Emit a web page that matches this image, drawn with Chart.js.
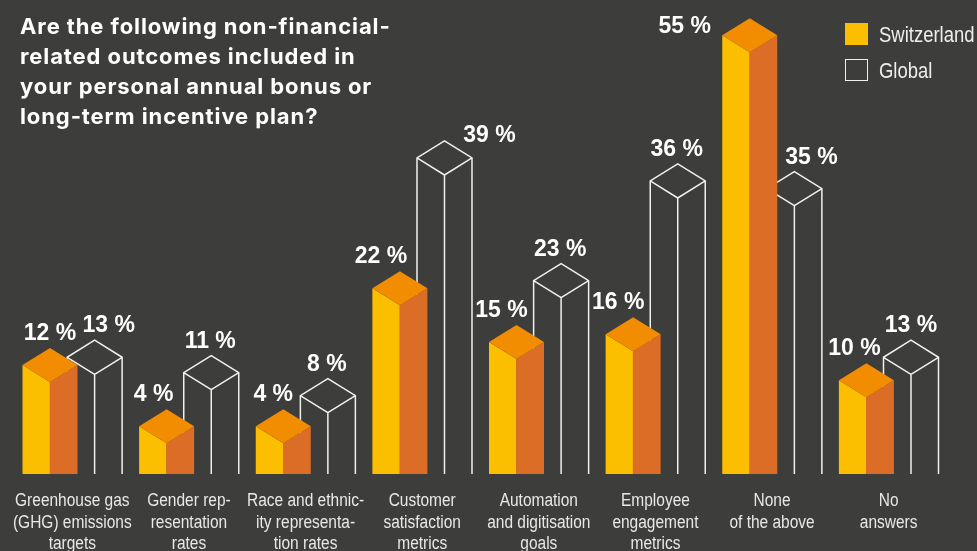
<!DOCTYPE html>
<html>
<head>
<meta charset="utf-8">
<script src="https://cdn.jsdelivr.net/npm/chart.js@4/dist/chart.umd.min.js"></script>
<style>
  html, body { margin: 0; padding: 0; background: #3d3d3c; }
  #wrap { position: relative; width: 977px; height: 551px; overflow: hidden; }
  #title {
    position: absolute; left: 20px; top: 11px; margin: 0;
    font: bold 22px/30px Inter, 'Liberation Sans', Arial, sans-serif;
    letter-spacing: 0.9px; color: #ffffff;
  }
  .legend { position: absolute; left: 845px; width: 130px; height: 24px; }
  .legend .box { position: absolute; left: 0; top: 0; width: 23px; height: 22px; box-sizing: border-box; }
  .legend .txt {
    position: absolute; left: 34px; top: 1px; white-space: nowrap;
    font: 22px/22px 'Liberation Sans', Arial, sans-serif; color: #eeeeee;
    transform: scaleX(0.84); transform-origin: left center;
  }
</style>
</head>
<body>
<div id="wrap">
  <canvas id="chart"></canvas>
  <p id="title">Are the following non-financial-<br>related outcomes included in<br>your personal annual bonus or<br>long-term incentive plan?</p>
  <div class="legend" style="top:23px"><span class="box" style="background:#fcbf00"></span><span class="txt">Switzerland</span></div>
  <div class="legend" style="top:59px"><span class="box" style="border:1.5px solid #f0f0f0"></span><span class="txt">Global</span></div>
</div>
<script>
const categories = [
  ['Greenhouse gas', '(GHG) emissions', 'targets'],
  ['Gender rep-', 'resentation', 'rates'],
  ['Race and ethnic-', 'ity representa-', 'tion rates'],
  ['Customer', 'satisfaction', 'metrics'],
  ['Automation', 'and digitisation', 'goals'],
  ['Employee', 'engagement', 'metrics'],
  ['None', 'of the above'],
  ['No', 'answers']
];
const switzerland = [12, 4, 4, 22, 15, 16, 55, 10];
const global = [13, 11, 8, 39, 23, 36, 35, 13];

// value label nudges (px) so labels clear neighbouring prisms
const swissLabelShift = [0, -13, -10, -19, -15, -15, -65, -12];
const swissLabelLift = [8, 8, 8, 8, 8, 8, -15, 8];
const globalLabelShift = [14, -1, -1, 45, -1, -1, 17, 0];
const globalLabelLift = [8, 8, 8, -1, 8, 8, 8, 8];

const YELLOW = '#fcbf00';
const ORANGE_SIDE = '#dc6d27';
const ORANGE_TOP = '#f28c00';
const OUTLINE = '#f0f0f0';

function prismPoints(el) {
  const half = el.width / 2;
  const depth = el.width * 0.31;
  return {
    L: el.x - half, C: el.x, R: el.x + half,
    front: el.y, corner: el.y - depth, apex: el.y - 2 * depth, base: el.base
  };
}

// draws each bar as an isometric prism, plus value and category labels
const prismPlugin = {
  id: 'prisms',
  afterDatasetsDraw(chart) {
    const ctx = chart.ctx;
    const swissMeta = chart.getDatasetMeta(0);
    const globalMeta = chart.getDatasetMeta(1);
    ctx.save();

    // outlined Global prisms sit behind
    ctx.strokeStyle = OUTLINE;
    ctx.lineWidth = 1.5;
    globalMeta.data.forEach((el) => {
      const p = prismPoints(el);
      ctx.beginPath();
      ctx.moveTo(p.L, p.base); ctx.lineTo(p.L, p.corner);
      ctx.lineTo(p.C, p.apex); ctx.lineTo(p.R, p.corner);
      ctx.lineTo(p.R, p.base);
      ctx.moveTo(p.L, p.corner); ctx.lineTo(p.C, p.front); ctx.lineTo(p.R, p.corner);
      ctx.moveTo(p.C, p.front); ctx.lineTo(p.C, p.base);
      ctx.stroke();
    });

    swissMeta.data.forEach((el) => {
      const p = prismPoints(el);
      ctx.fillStyle = YELLOW;
      ctx.beginPath();
      ctx.moveTo(p.L, p.base); ctx.lineTo(p.L, p.corner); ctx.lineTo(p.C, p.front); ctx.lineTo(p.C, p.base);
      ctx.closePath(); ctx.fill();
      ctx.fillStyle = ORANGE_SIDE;
      ctx.beginPath();
      ctx.moveTo(p.C - 0.3, p.base); ctx.lineTo(p.C - 0.3, p.front); ctx.lineTo(p.R, p.corner); ctx.lineTo(p.R, p.base);
      ctx.closePath(); ctx.fill();
      ctx.fillStyle = ORANGE_TOP;
      ctx.beginPath();
      ctx.moveTo(p.L, p.corner); ctx.lineTo(p.C, p.apex); ctx.lineTo(p.R, p.corner); ctx.lineTo(p.C, p.front);
      ctx.closePath(); ctx.fill();
    });

    // value labels
    ctx.fillStyle = '#ffffff';
    ctx.font = 'bold 23px "Liberation Sans", Arial, sans-serif';
    ctx.textAlign = 'center';
    ctx.textBaseline = 'alphabetic';
    globalMeta.data.forEach((el, i) => {
      const p = prismPoints(el);
      ctx.fillText(global[i] + ' %', el.x + globalLabelShift[i], p.apex - globalLabelLift[i]);
    });
    swissMeta.data.forEach((el, i) => {
      const p = prismPoints(el);
      ctx.fillText(switzerland[i] + ' %', el.x + swissLabelShift[i], p.apex - swissLabelLift[i]);
    });

    // category labels in a condensed cut
    const xScale = chart.scales.x;
    ctx.fillStyle = '#e8e8e8';
    ctx.font = '18px "Liberation Sans", Arial, sans-serif';
    categories.forEach((lines, i) => {
      const x = xScale.getPixelForValue(i);
      lines.forEach((line, k) => {
        ctx.save();
        ctx.translate(x, xScale.top + 32 + k * 21.5);
        ctx.scale(0.86, 1);
        ctx.fillText(line, 0, 0);
        ctx.restore();
      });
    });
    ctx.restore();
  }
};

new Chart(document.getElementById('chart'), {
  type: 'bar',
  data: {
    labels: categories,
    datasets: [
      { label: 'Switzerland', data: switzerland, backgroundColor: 'rgba(0,0,0,0)', borderWidth: 0 },
      { label: 'Global', data: global, backgroundColor: 'rgba(0,0,0,0)', borderWidth: 0 }
    ]
  },
  options: {
    responsive: true,
    maintainAspectRatio: false,
    animation: false,
    categoryPercentage: 0.765,
    barPercentage: 1.233,
    layout: { padding: { left: 14, right: 30, top: 14, bottom: 0 } },
    scales: {
      x: {
        grid: { display: false, drawTicks: false },
        border: { display: false },
        ticks: { display: false },
        afterFit(scale) { scale.height = 77; }
      },
      y: { display: false, min: 0, max: 60 }
    },
    plugins: {
      legend: { display: false },
      tooltip: { enabled: false }
    }
  },
  plugins: [prismPlugin]
});
</script>
</body>
</html>
